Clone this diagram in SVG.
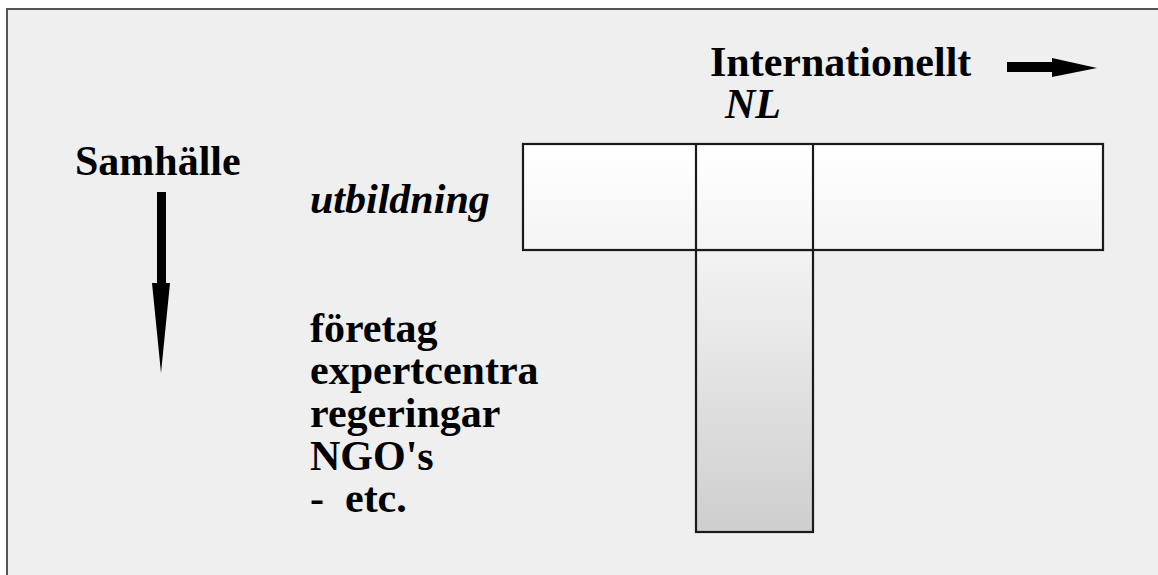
<svg xmlns="http://www.w3.org/2000/svg" width="1158" height="575" viewBox="0 0 1158 575">
<defs>
<linearGradient id="gTop" x1="0" y1="0" x2="0" y2="1">
<stop offset="0" stop-color="#ffffff"/>
<stop offset="1" stop-color="#f4f4f4"/>
</linearGradient>
<linearGradient id="gStem" x1="0" y1="0" x2="0" y2="1">
<stop offset="0" stop-color="#f3f3f3"/>
<stop offset="1" stop-color="#cecece"/>
</linearGradient>
</defs>
<style>
.t{font-family:"Liberation Serif","Times New Roman",serif;font-size:42px;font-weight:bold;fill:#000}
.i{font-style:italic}
.box{stroke:#1a1a1a;stroke-width:2.2}
.ln{stroke:#1a1a1a;stroke-width:2.2;fill:none}
.arr{fill:#000}
</style>
<rect width="1158" height="575" fill="#ffffff"/>
<rect id="frame" x="7" y="9" width="1170" height="590" fill="#efefef" stroke="#555" stroke-width="2"/>
<g id="stem"><rect class="box" x="696" y="250" width="117" height="282" fill="url(#gStem)"/></g>
<g id="bar">
<rect class="box" x="523" y="144" width="580" height="106" fill="url(#gTop)"/>
<line class="ln" x1="696" y1="144" x2="696" y2="250"/>
<line class="ln" x1="813" y1="144" x2="813" y2="250"/>
</g>
<g id="connectors">
<polygon class="arr" points="157,192 166,192 166,283 170,283 161,373 152,283 157,283"/>
<polygon class="arr" points="1007,62 1052,62 1052,58 1097,68 1052,77 1052,72 1007,72"/>
</g>
<g id="labels">
<text class="t" x="710" y="76">Internationellt</text>
<text class="t i" x="725" y="118">NL</text>
<text class="t" x="75" y="175">Samhälle</text>
<text class="t i" x="310" y="213">utbildning</text>
<text class="t" x="310" y="342">företag</text>
<text class="t" x="310" y="384">expertcentra</text>
<text class="t" x="310" y="427">regeringar</text>
<text class="t" x="310" y="470">NGO's</text>
<text class="t" x="310" y="512" xml:space="preserve" style="white-space:pre">-  etc.</text>
</g>
</svg>
